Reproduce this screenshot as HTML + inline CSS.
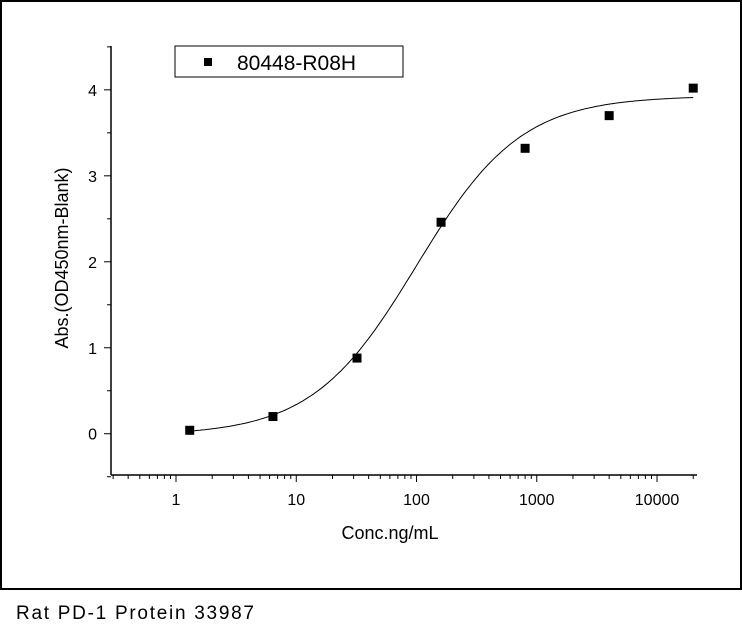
<!DOCTYPE html>
<html><head><meta charset="utf-8"><style>
body{margin:0;background:#fff;}
svg{display:block;font-family:"Liberation Sans",Arial,sans-serif;}
</style></head><body>
<svg id="chart" width="742" height="635">
<rect x="1" y="1" width="740" height="588" fill="none" stroke="#000" stroke-width="2"/>
<text x="16" y="619" font-size="19" textLength="238">Rat PD-1 Protein 33987</text>
<g id="axes"></g>
<g id="curve"></g>
<g id="points"></g>
<rect x="175" y="46" width="228" height="31" fill="#fff" stroke="#000" stroke-width="1"/>
<rect x="204" y="58" width="8" height="8" fill="#000"/>
<text x="237" y="70" font-size="21">80448-R08H</text>
<text x="390" y="539" font-size="18" text-anchor="middle">Conc.ng/mL</text>
<text transform="translate(68,258) rotate(-90)" font-size="18" text-anchor="middle">Abs.(OD450nm-Blank)</text>
</svg>
<script>
const concs=[1.3,6.4,32,160,800,4000,20000];
const absVals=[0.04,0.2,0.88,2.46,3.32,3.70,4.02];
const xTickLabels=["1","10","100","1000","10000"];
const yTickLabels=["0","1","2","3","4"];
const fitParams=[-0.02,3.93,100,1.0];
const NS="http://www.w3.org/2000/svg";
const X0=111,X1=697,Y0=475,Y1=46;
const xmin=Math.log10(0.288),xmax=Math.log10(21500);
const ymin=-0.48,ymax=4.51;
function xs(v){return X0+(Math.log10(v)-xmin)/(xmax-xmin)*(X1-X0);}
function ys(v){return Y0-(v-ymin)/(ymax-ymin)*(Y0-Y1);}
function mk(t,a,p){const e=document.createElementNS(NS,t);for(const k in a)e.setAttribute(k,a[k]);p.appendChild(e);return e;}
const ax=document.getElementById('axes');
let l=mk('line',{x1:X0,y1:Y0,x2:X1,y2:Y0,stroke:'#000','stroke-width':1.5},ax);


l=mk('line',{x1:X0,y1:Y0,x2:X0,y2:Y1,stroke:'#000','stroke-width':1.5},ax);


for(let d=-1;d<=4;d++){for(let m=1;m<10;m++){const v=m*Math.pow(10,d);const lv=Math.log10(v);if(lv<xmin||lv>xmax)continue;const x=xs(v);const t=mk('line',{x1:x,y1:Y0,x2:x,y2:Y0+(m===1?7:4),stroke:'#000','stroke-width':1},ax);

}}
xTickLabels.forEach(s=>{const t=mk('text',{x:xs(+s),y:Y0+30,'font-size':16,'text-anchor':'middle'},ax);t.textContent=s;

});
for(let v=-0.5;v<=4.5;v+=0.5){const y=ys(v);const t=mk('line',{x1:X0,y1:y,x2:X0-(Number.isInteger(v)?7:4),y2:y,stroke:'#000','stroke-width':1},ax);

}
yTickLabels.forEach(s=>{const t=mk('text',{x:X0-14,y:ys(+s)+6,'font-size':16,'text-anchor':'end'},ax);t.textContent=s;

});
const [b,tp,ec,h]=fitParams;let d='';
const lo=Math.log10(concs[0]),hi=Math.log10(concs[concs.length-1]);
for(let i=0;i<=200;i++){const lx=lo+(hi-lo)*i/200;const v=Math.pow(10,lx);const y=b+(tp-b)/(1+Math.pow(ec/v,h));d+=(i?'L':'M')+xs(v).toFixed(1)+','+ys(y).toFixed(1);}
const cv=mk('path',{d:d,fill:'none',stroke:'#000','stroke-width':1},document.getElementById('curve'));


const pg=document.getElementById('points');
concs.forEach((c,i)=>{const r=mk('rect',{x:xs(c)-4.5,y:ys(absVals[i])-4.5,width:9,height:9,fill:'#000'},pg);

});
</script>
</body></html>
